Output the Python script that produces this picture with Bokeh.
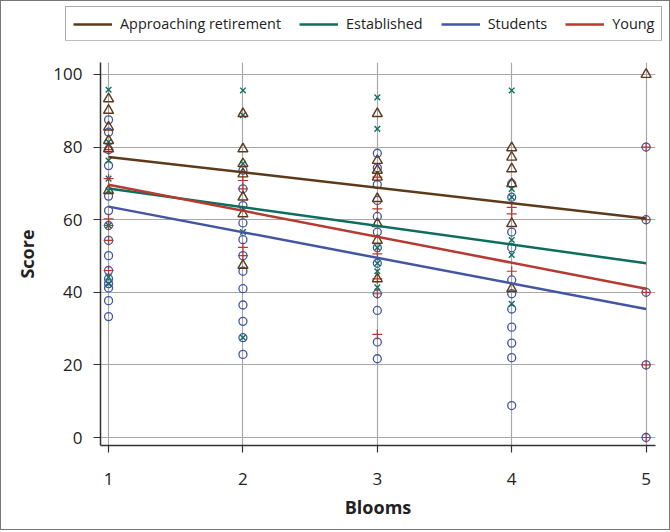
from bokeh.plotting import figure
from bokeh.models import Range1d, FixedTicker, Legend, LegendItem
from bokeh.embed import file_html
from bokeh.resources import INLINE

# ---- data ----
groups = ["Approaching retirement", "Established", "Students", "Young"]

retire_x = [1]*6 + [2]*7 + [3]*8 + [4]*6 + [5]
retire_y = [93.3, 90.1, 85.5, 81.8, 79.5, 68.0,
            89.2, 79.5, 75.4, 72.6, 66.2, 61.6, 47.4,
            89.2, 76.3, 73.6, 71.7, 65.8, 58.9, 54.3, 43.7,
            79.8, 77.2, 74.0, 69.9, 58.9, 41.0,
            100.0]

estab_x = [1]*8 + [2]*5 + [3]*6 + [4]*6
estab_y = [95.8, 81.4, 76.3, 71.3, 68.0, 58.4, 44.2, 42.4,
           95.6, 88.8, 75.4, 56.6, 27.5,
           93.7, 85.0, 52.3, 48.0, 45.8, 41.4,
           95.6, 68.5, 66.2, 54.4, 50.3, 36.8]

stud_x = [1]*15 + [2]*12 + [3]*12 + [4]*11 + [5]*5
stud_y = [87.5, 84.1, 79.3, 74.9, 66.5, 62.5, 58.4, 54.3, 50.1, 46.0, 43.7, 42.4, 41.2, 37.7, 33.3,
          73.6, 68.5, 63.9, 59.1, 54.5, 50.1, 45.8, 41.0, 36.5, 32.0, 27.5, 22.9,
          78.3, 74.3, 69.7, 65.3, 60.9, 56.6, 52.3, 48.0, 39.6, 35.0, 26.3, 21.7,
          69.9, 66.2, 56.6, 52.3, 43.4, 39.6, 35.4, 30.4, 26.0, 22.0, 8.8,
          80.0, 60.0, 40.0, 20.0, 0.0]

young_x = [1]*6 + [2]*4 + [3]*6 + [4]*3 + [5]*5
young_y = [79.3, 71.3, 60.2, 58.4, 54.3, 46.0,
           70.8, 68.5, 52.4, 50.1,
           71.7, 63.0, 50.6, 43.7, 39.6, 28.4,
           63.4, 61.6, 45.8,
           80.0, 60.0, 40.0, 20.0, 0.0]

# fitted trend lines (value at Blooms = 1 and Blooms = 5)
trend_x = [1, 5]
trend_retire = [77.3, 60.3]
trend_estab = [68.6, 48.0]
trend_stud = [63.6, 35.4]
trend_young = [69.6, 41.0]

x_ticks = [1, 2, 3, 4, 5]
y_ticks = [0, 20, 40, 60, 80, 100]

# ---- styling ----
C_RET = "#5c3a1a"
C_EST = "#0e6e5e"
C_STU = "#4256a4"
C_YNG = "#b53a30"
COLORS = [C_RET, C_EST, C_STU, C_YNG]
TRENDS = [trend_retire, trend_estab, trend_stud, trend_young]
FONT = "Open Sans"
EDGE = "1px solid #777777"

# ---- legend strip (top 40 px) ----
lf = figure(width=668, height=39, output_backend="svg", toolbar_location=None,
            x_axis_type=None, y_axis_type=None, min_border=0,
            x_range=Range1d(100, 101), y_range=Range1d(100, 101))
lf.outline_line_color = None
lf.grid.visible = False
lf.styles = {"border-top": EDGE, "border-left": EDGE, "border-right": EDGE,
             "box-sizing": "content-box"}
items = []
for name, col, tr in zip(groups, COLORS, TRENDS):
    r = lf.line(trend_x, tr, line_color=col, line_width=2.5)
    items.append(LegendItem(label=name, renderers=[r]))
legend = Legend(items=items, orientation="horizontal", location=(64, 0))
legend.label_text_font = FONT
legend.label_text_font_size = "14.4px"
legend.label_text_color = "#222222"
legend.glyph_width = 39
legend.glyph_height = 14
legend.label_standoff = 8
legend.spacing = 18
legend.padding = 7
legend.margin = 0
legend.border_line_color = "#555555"
legend.border_line_width = 1
legend.background_fill_color = "white"
legend.background_fill_alpha = 1.0
lf.add_layout(legend, "center")

# ---- main plot ----
p = figure(frame_width=555, frame_height=383, output_backend="svg", toolbar_location=None,
           x_range=Range1d(0.94, 5.07), y_range=Range1d(-2.2, 103.3),
           min_border_left=99, min_border_right=14, min_border_top=22, min_border_bottom=84)
p.outline_line_color = None
p.background_fill_color = "white"
p.border_fill_color = "white"
p.styles = {"border-bottom": EDGE, "border-left": EDGE, "border-right": EDGE,
            "box-sizing": "content-box"}

p.scatter(stud_x, stud_y, marker="circle", size=8, fill_color=None,
          line_color=C_STU, line_width=1.3)
p.scatter(estab_x, estab_y, marker="x", size=8, line_color=C_EST, line_width=1.4)
p.scatter(young_x, young_y, marker="cross", size=10, line_color=C_YNG, line_width=1.2)
p.scatter(retire_x, retire_y, marker="triangle", size=10, fill_color=None,
          line_color=C_RET, line_width=1.4)

for col, tr in zip(COLORS, TRENDS):
    p.line(trend_x, tr, line_color=col, line_width=2.5)

for ax in (p.xaxis[0], p.yaxis[0]):
    ax.major_label_text_font = FONT
    ax.major_label_text_font_size = "17px"
    ax.major_label_text_color = "#222222"
    ax.axis_label_text_font = FONT
    ax.axis_label_text_font_size = "18px"
    ax.axis_label_text_font_style = "bold"
    ax.axis_label_text_color = "#222222"
    ax.axis_line_color = "#333333"
    ax.axis_line_width = 1.5
    ax.major_tick_line_color = "#333333"
    ax.major_tick_line_width = 1.2
    ax.major_tick_in = 0
    ax.major_tick_out = 7
    ax.minor_tick_line_color = None

p.xaxis.ticker = FixedTicker(ticks=x_ticks)
p.yaxis.ticker = FixedTicker(ticks=y_ticks)
p.xaxis.axis_label = "Blooms"
p.yaxis.axis_label = "Score"
p.xaxis.major_label_standoff = 20
p.xaxis.axis_label_standoff = 7
p.yaxis.major_label_standoff = 11
p.yaxis.axis_label_standoff = 11

p.xgrid.ticker = FixedTicker(ticks=x_ticks)
p.ygrid.ticker = FixedTicker(ticks=y_ticks)
p.grid.grid_line_color = "#a8a8a8"
p.grid.grid_line_width = 1.2

open("out.html", "w").write(file_html([lf, p], INLINE))
